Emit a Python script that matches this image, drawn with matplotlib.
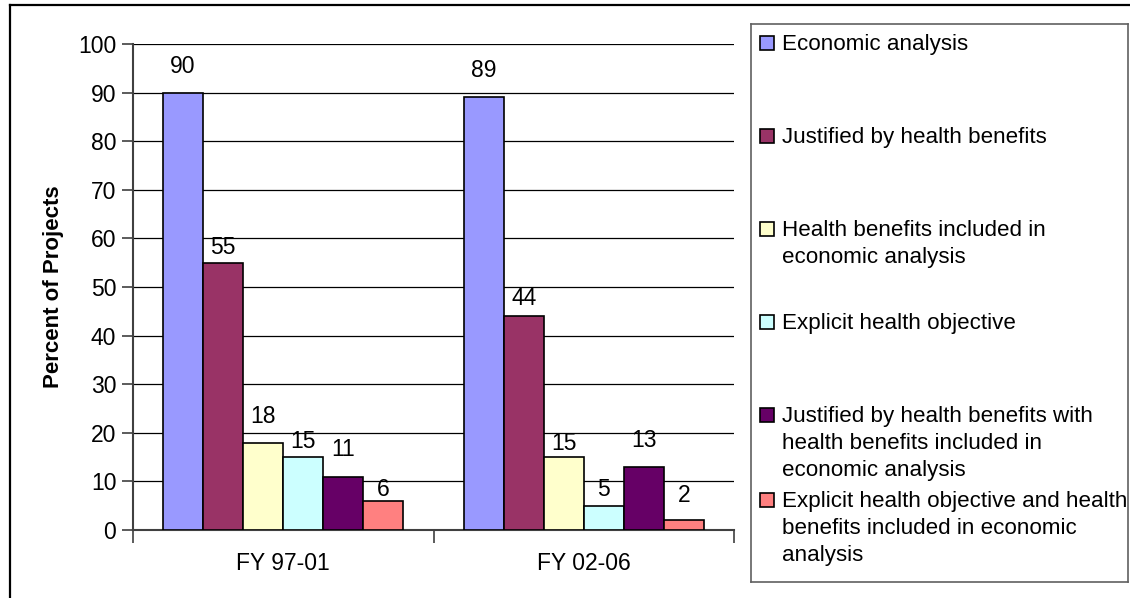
import matplotlib.pyplot as plt
from matplotlib.patches import Rectangle
from matplotlib.lines import Line2D
import numpy as np

plt.rcParams['font.family'] = ['Liberation Sans', 'DejaVu Sans']

periods = ['FY 97-01', 'FY 02-06']
series = [
    'Economic analysis',
    'Justified by health benefits',
    'Health benefits included in\neconomic analysis',
    'Explicit health objective',
    'Justified by health benefits with\nhealth benefits included in\neconomic analysis',
    'Explicit health objective and health\nbenefits included in economic\nanalysis',
]
fy97_01 = [90, 55, 18, 15, 11, 6]
fy02_06 = [89, 44, 15, 5, 13, 2]
colors = ['#9999FF', '#993366', '#FFFFCC', '#CCFFFF', '#660066', '#FF8080']

# how far each value label sits above its bar (pixels)
lift_97 = [26, 15, 26, 16, 27, 11]
lift_02 = [27, 18, 14, 16, 26, 25]

W, H = 1130, 598
fig = plt.figure(figsize=(W / 100, H / 100), dpi=100)

# outer frame (only left and top fall inside the image)
fig.add_artist(Line2D([10 / W, 10 / W], [0, 1 - 5 / H], color='black', lw=1.6))
fig.add_artist(Line2D([10 / W, 1], [1 - 5 / H, 1 - 5 / H], color='black', lw=1.6))

ax = fig.add_axes([133 / W, (H - 530) / H, 601 / W, 486 / H])
x = np.arange(len(periods))
w = 0.8 / 6
vals = np.array([fy97_01, fy02_06])
lifts = np.array([lift_97, lift_02])
for i in range(len(series)):
    pos = x + (i - 2.5) * w
    ax.bar(pos, vals[:, i], width=w, color=colors[i], edgecolor='black', lw=1.2, zorder=3)
    for j in range(len(periods)):
        ax.annotate(str(vals[j, i]), (pos[j], vals[j, i]),
                    xytext=(0, lifts[j, i] * 0.72), textcoords='offset points',
                    ha='center', va='center', fontsize=16.5, zorder=4)

ax.set_xlim(-0.5, 1.5)
ax.set_ylim(0, 100)
ax.set_yticks(range(0, 101, 10))
ax.yaxis.grid(True, color='black', lw=0.9, zorder=0)
ax.set_xticks([-0.5, 0.5, 1.5])
ax.set_xticklabels([])
ax.set_xticks(x, minor=True)
ax.set_xticklabels(periods, minor=True, fontsize=16.5)
ax.tick_params(axis='x', which='minor', length=0, pad=16)
ax.tick_params(axis='x', which='major', length=9, width=1.2, direction='out', color='#404040')
ax.tick_params(axis='y', length=8, width=1.2, direction='out', labelsize=16.5, pad=4, color='#404040')
for side in ['top', 'right']:
    ax.spines[side].set_visible(False)
for side in ['left', 'bottom']:
    ax.spines[side].set_linewidth(1.5)
    ax.spines[side].set_color('#404040')
ax.set_ylabel('Percent of Projects', fontsize=16, fontweight='bold', labelpad=10)

# legend box, laid out in pixel units
lx0, ly0, lx1, ly1 = 751, 24, 1128, 582
lax = fig.add_axes([lx0 / W, (H - ly1) / H, (lx1 - lx0) / W, (ly1 - ly0) / H])
lax.set_xlim(0, lx1 - lx0)
lax.set_ylim(ly1 - ly0, 0)
lax.set_xticks([])
lax.set_yticks([])
for s in lax.spines.values():
    s.set_color('#606060')
    s.set_linewidth(1.2)
entry_y = [43, 136, 229, 322, 415, 500]
for lbl, c, yy in zip(series, colors, entry_y):
    yy = yy - ly0
    lax.add_patch(Rectangle((9, yy - 7), 14, 14, facecolor=c, edgecolor='black', lw=1.2))
    lax.text(31, yy - 9, lbl, fontsize=16.1, va='top', ha='left', linespacing=1.37)

fig.savefig('out.png', dpi=100)
